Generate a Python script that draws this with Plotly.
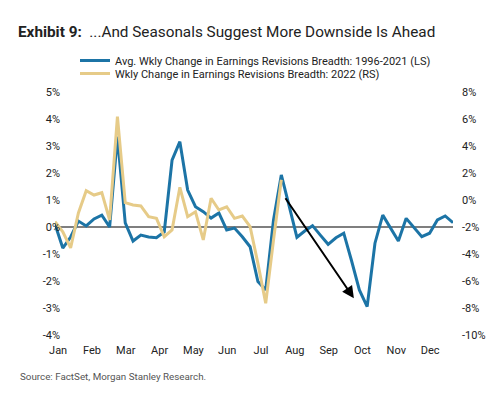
import plotly.graph_objects as go

# ---------------- data ----------------
weeks = list(range(52))

avg_1996_2021 = [0.10, -0.78, -0.37, 0.22, 0.04, 0.30, 0.44, 0.00, 3.35, 0.15,
                 -0.52, -0.30, -0.37, -0.40, -0.18, 2.48, 3.16, 1.37, 0.75, 0.57,
                 0.33, 0.52, -0.11, -0.04, -0.36, -0.73, -2.02, -2.33, 0.26, 1.93,
                 0.78, -0.38, -0.15, 0.05, -0.30, -0.64, -0.40, -0.23, -1.25, -2.33,
                 -2.95, -0.60, 0.44, -0.02, -0.52, 0.32, 0.00, -0.36, -0.23, 0.26,
                 0.41, 0.16]

wkly_2022 = [-1.60, -2.35, -3.55, -0.96, 0.69, 0.37, 0.54, -1.48, 6.17, -0.20,
             -0.37, -0.44, -1.24, -1.36, -2.72, -2.22, 0.94, -1.24, -0.87, -2.96,
             0.13, -0.74, -0.50, -1.36, -1.19, -1.98, -4.69, -7.65, -2.96, 1.50]

months = ["Jan", "Feb", "Mar", "Apr", "May", "Jun",
          "Jul", "Aug", "Sep", "Oct", "Nov", "Dec"]

left_ticks = [5, 4, 3, 2, 1, 0, -1, -2, -3, -4]
right_ticks = [8, 6, 4, 2, 0, -2, -4, -6, -8, -10]

# arrow annotation (week index, left-axis value)
arrow_start = (29.4, 1.12)
arrow_end = (38.3, -2.64)

BLUE = "#1C74A6"
GOLD = "#E6CB88"
FONT = "Roboto, Arial, sans-serif"
TXT = "#222222"

# page body has an 8px margin: figure is sized/offset to compensate
W, H = 492, 390
ML, MT = 47, 84
PW, PH = 398, 243

fig = go.Figure()

fig.add_trace(go.Scatter(
    x=weeks, y=avg_1996_2021, mode="lines",
    name="Avg. Wkly Change in Earnings Revisions Breadth: 1996-2021 (LS)",
    line=dict(color=BLUE, width=3), cliponaxis=False, yaxis="y", legend="legend"))

fig.add_trace(go.Scatter(
    x=weeks[:len(wkly_2022)], y=wkly_2022, mode="lines",
    name="Wkly Change in Earnings Revisions Breadth: 2022 (RS)",
    line=dict(color=GOLD, width=3), cliponaxis=False, yaxis="y2", legend="legend2"))

# zero line across data span
fig.add_shape(type="line", xref="x", yref="y", x0=weeks[0], x1=weeks[-1],
              y0=0, y1=0, line=dict(color="#555555", width=1.5), layer="below")

fig.add_annotation(x=arrow_end[0], y=arrow_end[1], ax=arrow_start[0], ay=arrow_start[1],
                   xref="x", yref="y", axref="x", ayref="y", text="",
                   showarrow=True, arrowhead=2, arrowsize=1.2, arrowwidth=2,
                   arrowcolor="black")

month_pos = [0.4 + i * 52 / 12 for i in range(12)]


def px_x(x):
    return (x - 8 - ML) / PW


def px_y(y):
    return (MT + PH - (y - 8)) / PH


legend_common = dict(xanchor="left", yanchor="top", bgcolor="rgba(0,0,0,0)",
                     font=dict(family=FONT, size=11, color=TXT))

fig.update_layout(
    width=W, height=H,
    margin=dict(l=ML, r=W - ML - PW, t=MT, b=H - MT - PH),
    paper_bgcolor="white", plot_bgcolor="white",
    font=dict(family=FONT, size=11, color=TXT),
    title=dict(text="<b>Exhibit 9:</b> \u00a0...And Seasonals Suggest More Downside Is Ahead",
               xref="container", yref="container", x=(18 - 8) / W, xanchor="left",
               y=1 - (32 - 8) / H, yanchor="middle",
               font=dict(family=FONT, size=15.3, color=TXT)),
    showlegend=True,
    legend=dict(x=px_x(75), y=px_y(46), **legend_common),
    legend2=dict(x=px_x(75), y=px_y(59), **legend_common),
    xaxis=dict(range=[weeks[0], weeks[-1]], tickvals=month_pos, ticktext=months,
               showgrid=False, zeroline=False, showline=False, ticks="",
               ticklabelstandoff=7, tickfont=dict(size=11, color=TXT)),
    yaxis=dict(range=[-4, 5], tickvals=left_ticks,
               ticktext=[f"{v}%" for v in left_ticks],
               showgrid=False, zeroline=False, showline=False, ticks="",
               ticklabelstandoff=-6, tickfont=dict(size=11, color=TXT)),
    yaxis2=dict(range=[-10, 8], tickvals=right_ticks,
                ticktext=[f"{v}%" for v in right_ticks],
                overlaying="y", side="right",
                showgrid=False, zeroline=False, showline=False, ticks="",
                ticklabelstandoff=8, tickfont=dict(size=11, color=TXT)),
)

fig.add_annotation(text="Source: FactSet, Morgan Stanley Research.",
                   xref="paper", yref="paper", x=px_x(18), y=px_y(377),
                   xanchor="left", yanchor="middle", showarrow=False,
                   font=dict(family=FONT, size=9.8, color="#555555"))

fig.write_html("out.html")
